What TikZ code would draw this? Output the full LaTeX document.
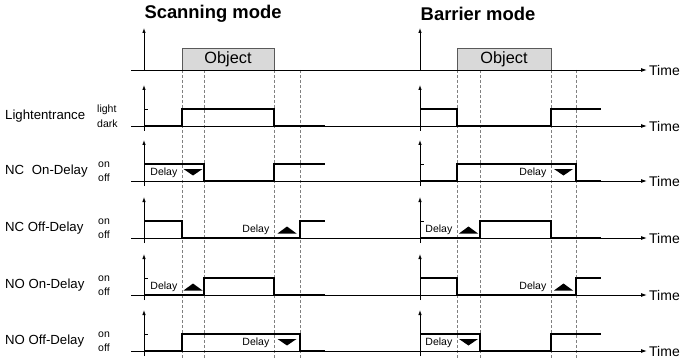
\documentclass[tikz,border=0pt]{standalone}
\usepackage{fontspec}
\setmainfont{Liberation Sans}
\usetikzlibrary{arrows.meta}
\tikzset{
  axisline/.style={line width=0.9pt, -{Latex[length=6pt,width=4pt]}},
  vaxisline/.style={line width=0.8pt, -{Latex[length=5pt,width=3.5pt]}},
  sig/.style={line width=2.5pt, line join=miter},
  guide/.style={gray, line width=0.7pt, dash pattern=on 3pt off 2pt},
  tickmark/.style={line width=0.9pt},
  rowlbl/.style={anchor=west, inner sep=0pt, font=\fontsize{13.2}{15}\selectfont},
  lvl/.style={anchor=west, inner sep=0pt, font=\fontsize{10.5}{12}\selectfont},
  dly/.style={anchor=east, inner sep=0pt, font=\fontsize{10.5}{12}\selectfont},
  timelbl/.style={anchor=west, inner sep=0pt, font=\fontsize{14}{16}\selectfont},
  modetitle/.style={inner sep=0pt, font=\bfseries\fontsize{18.4}{22}\selectfont},
  objbox/.style={draw=gray!70!black, fill=gray!30, line width=0.8pt, inner sep=0pt,
    minimum width=92pt, minimum height=22pt, font=\fontsize{16.3}{19}\selectfont},
}
\newcommand\axesrow[2]{%
  \draw[axisline] (131,#1) -- (647,#1);
  \draw[vaxisline] (144,#1+5) -- (144,#1-41);
  \draw[vaxisline] (420,#1+5) -- (420,#1-41);
  \node[timelbl] (time#2) at (649,#1+0.5) {Time};
}
\newcommand\delaydown[4]{%
  \node[dly] (dly#4) at (#1-4.5,#3-8) {Delay};
  \fill (#1/2+#2/2-9.5,#3-12) -- (#1/2+#2/2+9.5,#3-12) -- (#1/2+#2/2,#3-5.5) -- cycle;
}
\newcommand\delayup[4]{%
  \node[dly] (dly#4) at (#1-4.5,#3-8) {Delay};
  \fill (#1/2+#2/2-9.5,#3-4.5) -- (#1/2+#2/2+9.5,#3-4.5) -- (#1/2+#2/2,#3-11.5) -- cycle;
}
\begin{document}
\begin{tikzpicture}[x=1pt,y=-1pt]
\useasboundingbox (0,0) rectangle (681,361);
% titles
\node[modetitle] (tscan) at (213,13.5) {Scanning mode};
\node[modetitle] (tbar) at (478,13.5) {Barrier mode};
% guides
\foreach \gx in {182,204,274,300,457,480,551,576}
  \draw[guide] (\gx,70) -- (\gx,358);
% object boxes
\node[objbox] (objS) at (228,59) {Object};
\node[objbox, minimum width=94pt] (objB) at (504,59) {Object};
% top row axes
\draw[axisline] (131,70) -- (647,70);
\draw[vaxisline] (144,70) -- (144,28);
\draw[vaxisline] (420,70) -- (420,28);
\node[timelbl] (time0) at (649,70.5) {Time};
% rows axes
\axesrow{126}{1}
\axesrow{181}{2}
\axesrow{238}{3}
\axesrow{295}{4}
\axesrow{351}{5}
% ticks
\draw[tickmark] (144,109) -- (148,109);
\draw[tickmark] (420,164) -- (424,164);
\draw[tickmark] (420,221) -- (424,221);
\draw[tickmark] (144,278) -- (148,278);
\draw[tickmark] (144,334) -- (148,334);
% signals
\draw[sig] (144,126) -- (182,126) -- (182,109) -- (274,109) -- (274,126) -- (325,126);
\draw[sig] (420,109) -- (457,109) -- (457,126) -- (551,126) -- (551,109) -- (601,109);
\draw[sig] (144,164) -- (204,164) -- (204,181) -- (274,181) -- (274,164) -- (325,164);
\draw[sig] (420,181) -- (457,181) -- (457,164) -- (576,164) -- (576,181) -- (601,181);
\draw[sig] (144,221) -- (182,221) -- (182,238) -- (300,238) -- (300,221) -- (325,221);
\draw[sig] (420,238) -- (480,238) -- (480,221) -- (551,221) -- (551,238) -- (601,238);
\draw[sig] (144,295) -- (204,295) -- (204,278) -- (274,278) -- (274,295) -- (325,295);
\draw[sig] (420,278) -- (457,278) -- (457,295) -- (576,295) -- (576,278) -- (601,278);
\draw[sig] (144,351) -- (182,351) -- (182,334) -- (300,334) -- (300,351) -- (325,351);
\draw[sig] (420,334) -- (480,334) -- (480,351) -- (551,351) -- (551,334) -- (601,334);
% delays
\delaydown{182}{204}{181}{s2}
\delayup{274}{300}{238}{s3}
\delayup{182}{204}{295}{s4}
\delaydown{274}{300}{351}{s5}
\delaydown{551}{576}{181}{b2}
\delayup{457}{480}{238}{b3}
\delayup{551}{576}{295}{b4}
\delaydown{457}{480}{351}{b5}
% left labels
\node[rowlbl] (l1) at (5,116) {Lightentrance};
\node[lvl] (h1) at (97,110) {light};
\node[lvl] (o1) at (97,123.5) {dark};
\node[rowlbl] (l2) at (5,171.5) {NC\hspace{4pt} On-Delay};
\node[lvl] (h2) at (98,165) {on};
\node[lvl] (o2) at (98,178) {off};
\node[rowlbl] (l3) at (5,228.5) {NC Off-Delay};
\node[lvl] (h3) at (98,222) {on};
\node[lvl] (o3) at (98,235) {off};
\node[rowlbl] (l4) at (5,285.5) {NO On-Delay};
\node[lvl] (h4) at (98,279) {on};
\node[lvl] (o4) at (98,292) {off};
\node[rowlbl] (l5) at (5,341.5) {NO Off-Delay};
\node[lvl] (h5) at (98,335) {on};
\node[lvl] (o5) at (98,348) {off};
\end{tikzpicture}
\end{document}
